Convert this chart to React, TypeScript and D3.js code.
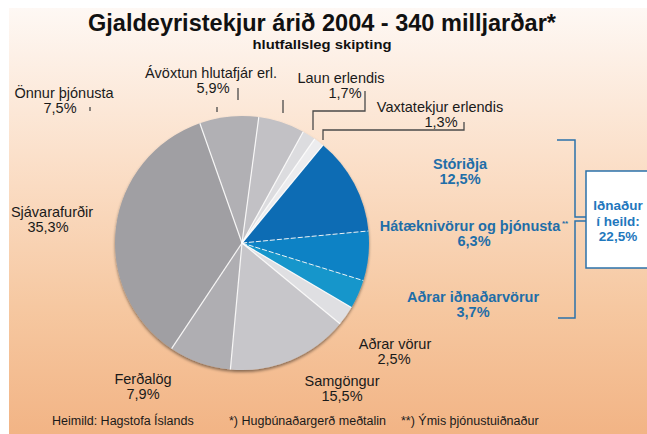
import React from "react";
import * as d3 from "d3";

const categories = [
  "Stóriðja",
  "Hátæknivörur og þjónusta",
  "Aðrar iðnaðarvörur",
  "Aðrar vörur",
  "Samgöngur",
  "Ferðalög",
  "Sjávarafurðir",
  "Önnur þjónusta",
  "Ávöxtun hlutafjár erl.",
  "Laun erlendis",
  "Vaxtatekjur erlendis",
];
const values = [12.5, 6.3, 3.7, 2.5, 15.5, 7.9, 35.3, 7.5, 5.9, 1.7, 1.3];
const valueLabels = ["12,5%", "6,3%", "3,7%", "2,5%", "15,5%", "7,9%", "35,3%", "7,5%", "5,9%", "1,7%", "1,3%"];
const sliceColors = [
  "#0b6cb4", "#0c82c5", "#1596cb", "#dfdfe2", "#c7c6ca", "#afaeb2",
  "#a09fa3", "#b1b0b4", "#c2c1c5", "#dcdcdf", "#ececee",
];
const blueSet = [true, true, true, false, false, false, false, false, false, false, false];
const totalLabel = ["Iðnaður", "í heild:", "22,5%"];
const title = "Gjaldeyristekjur árið 2004 - 340 milljarðar*";
const subtitle = "hlutfallsleg skipting";
const footnotes = ["Heimild: Hagstofa Íslands", "*) Hugbúnaðargerð meðtalin", "**) Ýmis þjónustuiðnaður"];

// label layout (positions, not data): [x line1, baseline line1, x line2]
const labelPos: [number, number, number][] = [
  [460, 169, 460],
  [470, 231, 474],
  [473, 302, 473],
  [395, 349, 394],
  [342, 386, 342],
  [143, 384, 143],
  [52, 217, 48],
  [64, 98, 60],
  [211, 78, 213],
  [341, 83, 345],
  [440, 112, 441],
];

export default function App() {
  const W = 647, H = 434;
  const cx = 242, cy = 243, R = 127;
  const start = (39.6 * Math.PI) / 180;
  const pie = d3.pie<number>().sort(null).value((d) => d).startAngle(start).endAngle(start + 2 * Math.PI);
  const arcs = pie(values);
  const arc = d3.arc<d3.PieArcDatum<number>>().innerRadius(0).outerRadius(R);
  const blue = "#1f6ea8";
  const font = "'Liberation Sans', Arial, sans-serif";
  const narrow = "'Liberation Sans Narrow', 'Arial Narrow', 'Liberation Sans', Arial, sans-serif";

  const leaders = [
    "M313,130 V111 H365 V91",
    "M323,140 V130 H464 V122",
    "M90,107 V111",
    "M217,107 V112",
    "M238,88 V100",
    "M283,100 V113",
  ];

  return (
    <svg width={W} height={H} style={{ position: "absolute", left: 0, top: 0 }} xmlns="http://www.w3.org/2000/svg">
      <defs>
        <linearGradient id="bg" x1="0" y1="0" x2="0" y2="1">
          <stop offset="0" stopColor="#fef8f4" />
          <stop offset="0.35" stopColor="#fbe0ca" />
          <stop offset="0.7" stopColor="#f6c8a1" />
          <stop offset="1" stopColor="#f2b485" />
        </linearGradient>
        <filter id="sh" x="-10%" y="-10%" width="120%" height="125%">
          <feDropShadow dx="0" dy="2" stdDeviation="1.5" floodColor="#000" floodOpacity="0.45" />
        </filter>
      </defs>
      <rect x={0} y={0} width={W} height={H} fill="#ffffff" />
      <rect x={9} y={8} width={W - 9} height={H - 8} fill="url(#bg)" />

      <text x={322} y={31} textAnchor="middle" fontFamily={narrow} fontWeight="bold" fontSize={23}
        textLength={468} lengthAdjust="spacingAndGlyphs" fill="#111">{title}</text>
      <text x={322} y={49} textAnchor="middle" fontFamily={narrow} fontWeight="bold" fontSize={13}
        textLength={139} lengthAdjust="spacingAndGlyphs" fill="#111">{subtitle}</text>

      <g transform={`translate(${cx},${cy})`}>
        <g filter="url(#sh)">
          {arcs.map((a, i) => (
            <path key={i} d={arc(a) || ""} fill={sliceColors[i]} />
          ))}
        </g>
        {arcs.map((a, i) => {
          const ang = a.startAngle;
          const x = Math.sin(ang) * R, y = -Math.cos(ang) * R;
          const prevBlue = blueSet[(i - 1 + values.length) % values.length];
          const dashed = blueSet[i] && prevBlue;
          return (
            <line key={i} x1={0} y1={0} x2={x} y2={y} stroke="#ffffff" strokeWidth={dashed ? 1 : 1.2}
              strokeDasharray={dashed ? "5,2" : undefined} opacity={0.9} />
          );
        })}
      </g>

      {leaders.map((d, i) => (
        <path key={i} d={d} fill="none" stroke="#4a4a4a" strokeWidth={1.3} />
      ))}

      {categories.map((c, i) => {
        const [x, y, x2] = labelPos[i];
        const isBlue = blueSet[i];
        return (
          <g key={i} fontFamily={font} fontSize={14.5} fontWeight={isBlue ? "bold" : "normal"}
            fill={isBlue ? blue : "#1a1a1a"} textAnchor="middle">
            <text x={x} y={y}>{c}</text>
            {i === 1 ? <text x={x + 92} y={y - 5} fontSize={8} textAnchor="start">**</text> : null}
            <text x={x2} y={y + 15}>{valueLabels[i]}</text>
          </g>
        );
      })}

      <g fill="none" stroke="#2b72aa" strokeWidth={1.5}>
        <path d="M557,140 H575 V217 H586" />
        <path d="M586,221 H575 V318 H558" />
      </g>
      <rect x={586} y={171} width={70} height={97} fill="#ffffff" stroke="#2b72aa" strokeWidth={1.5} />
      {totalLabel.map((t, i) => (
        <text key={i} x={618} y={210 + i * 15.5} textAnchor="middle" fontFamily={font} fontWeight="bold"
          fontSize={13.5} fill="#1f78bd">{t}</text>
      ))}

      <g fontFamily={font} fontSize={12.5} fill="#1a1a1a">
        <text x={52} y={425}>{footnotes[0]}</text>
        <text x={229} y={425}>{footnotes[1]}</text>
        <text x={401} y={425}>{footnotes[2]}</text>
      </g>
    </svg>
  );
}
